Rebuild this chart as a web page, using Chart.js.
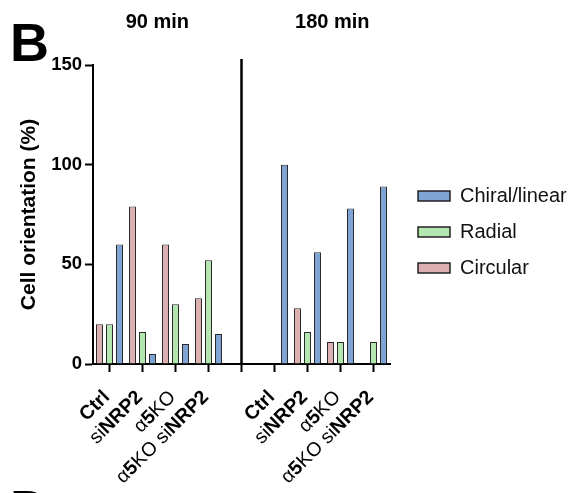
<!DOCTYPE html>
<html><head><meta charset="utf-8">
<script src="https://cdn.jsdelivr.net/npm/chart.js@4/dist/chart.umd.min.js"></script>
<style>
html,body{margin:0;padding:0;background:#fff;overflow:hidden;width:572px;height:493px;}
#wrap{position:relative;width:572px;height:493px;overflow:hidden;}
canvas{position:absolute;left:0;top:0;}
.panel{position:absolute;font-family:'Liberation Sans',Arial,sans-serif;font-weight:bold;font-size:54px;line-height:1;color:#000;}
</style></head>
<body><div id="wrap">
<canvas id="c" width="572" height="493"></canvas>
<div class="panel" style="left:10px;top:15px">B</div>
<div class="panel" style="left:10px;top:482px">D</div>
</div>
<script>
// ---- data ----
const categories = ['Ctrl', 'siNRP2', 'α5KO', 'α5KO siNRP2', '', 'Ctrl', 'siNRP2', 'α5KO', 'α5KO siNRP2'];
const circular = [20, 79, 60, 33, null, 0, 28, 11, 0];
const radial   = [20, 16, 30, 52, null, 0, 16, 11, 11];
const chiral   = [60, 5, 10, 15, null, 100, 56, 78, 89];
const yTicks = [0, 50, 100, 150];
const groupTitles = ['90 min', '180 min'];
const seriesNames = ['Circular', 'Radial', 'Chiral/linear'];
const yTitle = 'Cell orientation (%)';

const FONT = "'Liberation Sans', Arial, sans-serif";
const BOLD_RE = /(Ctrl|NRP2|5)/;

const decor = {
  id: 'decor',
  afterLayout(chart) {
    const L = chart.legend;
    const w = L.width, h = L.height;
    L.left = 402; L.right = 402 + w;
    L.top = 170; L.bottom = 170 + h;
  },
  afterDatasetsDraw(chart) {
    const ctx = chart.ctx, xs = chart.scales.x, ys = chart.scales.y;
    const x = xs.getPixelForValue(4);
    ctx.save();
    ctx.strokeStyle = '#000';
    ctx.lineWidth = 2.5;
    ctx.beginPath();
    ctx.moveTo(x, ys.top - 6);
    ctx.lineTo(x, ys.bottom);
    ctx.stroke();
    ctx.restore();
  },
  afterDraw(chart) {
    const ctx = chart.ctx, xs = chart.scales.x, ys = chart.scales.y;
    ctx.save();
    ctx.fillStyle = '#000';
    // group titles
    ctx.font = 'bold 20px ' + FONT;
    ctx.textAlign = 'center';
    ctx.textBaseline = 'alphabetic';
    ctx.fillText(groupTitles[0], xs.getPixelForValue(1.45), 28);
    ctx.fillText(groupTitles[1], xs.getPixelForValue(6.75), 28);
    // rotated category labels with mixed weights
    ctx.textAlign = 'left';
    categories.forEach((lab, i) => {
      if (!lab) return;
      const segs = lab.split(BOLD_RE).filter(s => s.length);
      const styled = segs.map(s => ({ t: s, f: (/^(Ctrl|NRP2|5)$/.test(s) ? 'bold ' : '') + '19.5px ' + FONT }));
      let total = 0;
      styled.forEach(s => { ctx.font = s.f; s.w = ctx.measureText(s.t).width; total += s.w; });
      const x = xs.getPixelForValue(i) + 1;
      const y = ys.bottom + 34;
      ctx.save();
      ctx.translate(x, y);
      ctx.rotate(-Math.PI / 4);
      let cx = -total;
      styled.forEach(s => { ctx.font = s.f; ctx.fillText(s.t, cx, 0); cx += s.w; });
      ctx.restore();
    });
    ctx.restore();
  }
};

new Chart(document.getElementById('c'), {
  type: 'bar',
  data: {
    labels: categories,
    datasets: [
      { label: seriesNames[0], data: circular, backgroundColor: '#dcb0b0' },
      { label: seriesNames[1], data: radial, backgroundColor: '#b4e6b0' },
      { label: seriesNames[2], data: chiral, backgroundColor: '#7fa3d3' }
    ].map(d => Object.assign(d, { borderColor: '#2a2a2a', borderWidth: 1, categoryPercentage: 0.91, barPercentage: 0.7 }))
  },
  options: {
    responsive: false,
    animation: false,
    devicePixelRatio: 1,
    layout: { padding: { left: 13, top: 65, right: 182, bottom: 0 } },
    plugins: {
      tooltip: { enabled: false },
      title: { display: false },
      legend: {
        display: true,
        position: 'chartArea',
        align: 'start',
        reverse: true,
        labels: {
          boxWidth: 32, boxHeight: 10, padding: 16, color: '#111',
          font: { family: FONT, size: 20 },
          generateLabels(chart) {
            const items = Chart.defaults.plugins.legend.labels.generateLabels(chart);
            items.forEach(it => { it.lineWidth = 1.5; it.strokeStyle = '#222'; });
            return items;
          }
        }
      }
    },
    scales: {
      x: {
        offset: true,
        ticks: { display: false },
        grid: { offset: false, drawOnChartArea: false, drawTicks: true, tickLength: 8, tickWidth: 2, tickColor: '#000' },
        border: { display: true, color: '#000', width: 2 },
        afterFit(s) { s.height = 129; }
      },
      y: {
        min: 0, max: 150,
        afterBuildTicks(s) { s.ticks = yTicks.map(v => ({ value: v })); },
        ticks: { color: '#000', padding: 3, font: { family: FONT, size: 18.5, weight: 'bold' } },
        grid: { drawOnChartArea: false, drawTicks: true, tickLength: 8, tickWidth: 2, tickColor: '#000' },
        border: { display: true, color: '#000', width: 2 },
        title: { display: true, text: yTitle, color: '#000', padding: { top: 4, bottom: 4 }, font: { family: FONT, size: 21, weight: 'bold' } },
        afterFit(s) { s.width = 80; }
      }
    }
  },
  plugins: [decor]
});
</script>
</body></html>
